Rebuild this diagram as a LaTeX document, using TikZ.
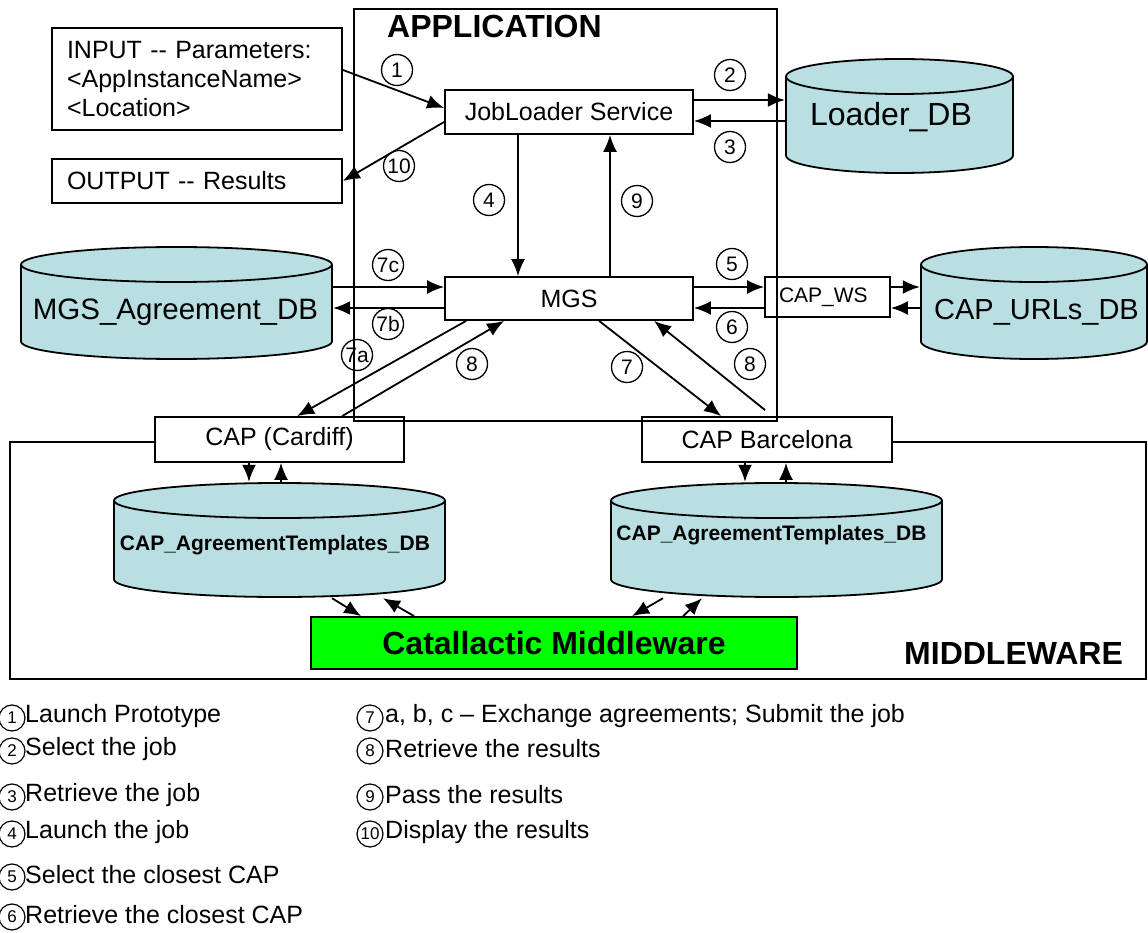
\documentclass[tikz,border=0pt]{standalone}
\usepackage{fontspec}
\setmainfont{Liberation Sans}
\usetikzlibrary{arrows.meta,calc}
\definecolor{dbfill}{RGB}{185,223,227}
\definecolor{mwgreen}{RGB}{0,255,0}

\begin{document}
\begin{tikzpicture}[x=1pt,y=-1pt,>={Latex[length=17pt,width=14pt]},
    box/.style={draw,fill=white,line width=1.8pt,inner sep=0pt,font=\fontsize{25}{29}\selectfont},
    dbshape/.style={rectangle,inner sep=0pt,path picture={
        \draw[line width=1.8pt,fill=dbfill]
          let \p1=(path picture bounding box.north west),
              \p2=(path picture bounding box.south east),
              \n1={(\x2-\x1)/2-1pt} in
          (\x1+1pt,\y1-18.5pt) -- (\x1+1pt,\y2+18.5pt)
          arc[start angle=180,end angle=360,x radius={\n1*1pt},y radius=17.5pt]
          -- (\x2-1pt,\y1-18.5pt)
          arc[start angle=0,end angle=180,x radius={\n1*1pt},y radius=17.5pt] -- cycle
          (\x1+1pt,\y1-18.5pt)
          arc[start angle=180,end angle=360,x radius={\n1*1pt},y radius=17.5pt];
      }},
    num/.style={circle,draw,line width=1.3pt,minimum size=31pt,inner sep=0pt,font=\fontsize{21}{21}\selectfont},
    keynum/.style={circle,draw,line width=1.2pt,minimum size=26pt,inner sep=0pt,font=\fontsize{17}{17}\selectfont},
    keytext/.style={anchor=west,inner sep=0pt,font=\fontsize{25}{29}\selectfont},
    flow/.style={->,line width=1.8pt},
    title/.style={anchor=west,inner sep=0pt,font=\fontsize{32}{36}\selectfont\bfseries}]
    \useasboundingbox (0,0) rectangle (1148,933);

    % databases
    \node[dbshape,minimum width=229pt,minimum height=116pt,
      label={[name=loadertxt,font=\fontsize{32}{36}\selectfont,xshift=-8.5pt,yshift=-1pt]center:Loader\_DB}]
      (loaderdb) at (899.5,116) {};
    \node[dbshape,minimum width=313pt,minimum height=114pt,
      label={[name=mgsdbtxt,font=\fontsize{29.5}{34}\selectfont,xshift=-1pt,yshift=-9pt]center:MGS\_Agreement\_DB}]
      (mgsdb) at (176.5,303) {};
    \node[dbshape,minimum width=228pt,minimum height=114pt,
      label={[name=urlsdbtxt,font=\fontsize{29}{34}\selectfont,xshift=2.5pt,yshift=-9pt]center:CAP\_URLs\_DB}]
      (urlsdb) at (1034,303) {};
    \node[dbshape,minimum width=333pt,minimum height=116pt,
      label={[name=cardiffdbtxt,font=\fontsize{21}{25}\selectfont\bfseries,xshift=-4.5pt,yshift=-5pt]center:CAP\_AgreementTemplates\_DB}]
      (cardiffdb) at (279.5,540) {};
    \node[dbshape,minimum width=333pt,minimum height=116pt,
      label={[name=barcadbtxt,font=\fontsize{21}{25}\selectfont\bfseries,xshift=-5pt,yshift=5pt]center:CAP\_AgreementTemplates\_DB}]
      (barcadb) at (776.5,540) {};

    % boxes
    \node[box,text width=260pt,inner xsep=15pt,align=left,minimum height=102pt] (input) at (197,79)
      {INPUT -{}- Parameters:\\<AppInstanceName>\\<Location>};
    \node[box,text width=260pt,inner xsep=15pt,align=left,minimum height=44pt] (output) at (197,181)
      {OUTPUT -{}- Results};
    \node[box,minimum width=248pt,minimum height=44pt] (jobloader) at (569,112) {JobLoader Service};
    \node[box,minimum width=248pt,minimum height=43pt] (mgs) at (569,298.5) {MGS};
    \node[box,text width=97pt,inner xsep=14pt,align=left,minimum height=40pt,
      font=\fontsize{21}{25}\selectfont] (capws) at (827.5,297) {CAP\_WS};
    \node[box,minimum width=249pt,minimum height=45pt] (cardiff) at (279.5,439.5) {CAP (Cardiff)};
    \node[box,minimum width=250pt,minimum height=45pt] (barcelona) at (767,439.5) {CAP Barcelona};
    \node[box,fill=mwgreen,minimum width=486pt,minimum height=52pt,
      font=\fontsize{32}{36}\selectfont\bfseries] (catallactic) at (554,643) {Catallactic Middleware};

    % middleware frame
    \coordinate (mwtl) at (10,442);
    \coordinate (mwbr) at (1146,679);
    \draw[line width=1.8pt] (cardiff.west |- mwtl) -- (mwtl) |- (mwbr) |- (barcelona.east |- mwtl);
    \node[title] (mwtitle) at (904,653) {MIDDLEWARE};

    % application frame
    \node[draw,line width=1.8pt,anchor=north west,minimum width=423pt,minimum height=412pt,inner sep=0pt]
      (appframe) at (353,8) {};
    \node[title] (apptitle) at (387,26) {APPLICATION};

    % job loading
    \draw[flow] ([yshift=9pt]input.east) -- ([yshift=4pt]jobloader.west);
    \draw[flow] ([yshift=-10pt]jobloader.west) -- (output.east);
    \draw[flow] ([yshift=12pt]jobloader.east) -- ([yshift=16pt]loaderdb.west);
    \draw[flow] ([yshift=-5pt]loaderdb.west) -- ([yshift=-9pt]jobloader.east);
    \draw[flow] ([xshift=-51pt]jobloader.south) -- ([xshift=-51pt]mgs.north);
    \draw[flow] ([xshift=41pt]mgs.north) -- ([xshift=41pt]jobloader.south);

    % agreements and closest CAP
    \draw[flow] ([yshift=16pt]mgsdb.east) -- ([yshift=11.5pt]mgs.west);
    \draw[flow] ([yshift=-9.5pt]mgs.west) -- ([yshift=-5pt]mgsdb.east);
    \draw[flow] ([yshift=11.5pt]mgs.east) -- ([yshift=10pt]capws.west);
    \draw[flow] ([yshift=-11pt]capws.west) -- ([yshift=-9.5pt]mgs.east);
    \draw[flow] ([yshift=10pt]capws.east) -- ([yshift=16pt]urlsdb.west);
    \draw[flow] ([yshift=-5pt]urlsdb.west) -- ([yshift=-11pt]capws.east);

    % submitting and results
    \draw[flow] ([xshift=22pt]mgs.south west) -- ([xshift=143pt]cardiff.north west);
    \draw[flow] ([xshift=188pt]cardiff.north west) -- ([xshift=60pt]mgs.south west);
    \draw[flow] ([xshift=155pt]mgs.south west) -- ([xshift=80pt]barcelona.north west);
    \draw[flow] ([xshift=124pt,yshift=6pt]barcelona.north west) -- ([xshift=210pt]mgs.south west);

    % CAPs and their templates
    \draw[flow] ([xshift=-30.5pt]cardiff.south) -- ([xshift=-30.5pt]cardiffdb.north);
    \draw[flow] ([xshift=1.5pt]cardiffdb.north) -- ([xshift=1.5pt]cardiff.south);
    \draw[flow] ([xshift=-22pt]barcelona.south) -- ([xshift=-31.5pt]barcadb.north);
    \draw[flow] ([xshift=9.5pt]barcadb.north) -- ([xshift=19pt]barcelona.south);
    \draw[flow] ([xshift=52.5pt]cardiffdb.south) -- ([xshift=51pt]catallactic.north west);
    \draw[flow] ([xshift=104pt]catallactic.north west) -- ([xshift=103.5pt]cardiffdb.south);
    \draw[flow] ([xshift=-113.5pt]barcadb.south) -- ([xshift=322pt]catallactic.north west);
    \draw[flow] ([xshift=373pt]catallactic.north west) -- ([xshift=-74.5pt]barcadb.south);

    % step numbers
    \foreach \s/\t/\x/\y in {s1/1/397/70, s10/10/399/166, s2/2/730/75, s3/3/730/147,
        s4/4/489/200, s9/9/637/201, s7c/7c/388/265, s7b/7b/388/324, s7a/7a/357/355,
        s8a/8/472/364, s5/5/732/264, s6/6/732/327, s7/7/627/367, s8b/8/750/364}
      \node[num] (\s) at (\x,\y) {\t};

    % legend
    \foreach \t/\y/\txt in {1/716/Launch Prototype, 2/749/Select the job, 3/795/Retrieve the job,
        4/832/Launch the job, 5/875/Select the closest CAP, 6/915/Retrieve the closest CAP}
    {
      \node[keynum] (key\t) at (12,\y+2) {\t};
      \node[keytext] (keytxt\t) at (25,\y) {\txt};
    };
    \foreach \t/\y/\txt in {7/716/{a, b, c -- Exchange agreements; Submit the job},
        8/749/Retrieve the results, 9/795/Pass the results, 10/832/Display the results}
    {
      \node[keynum] (key\t) at (370,\y+2) {\t};
      \node[keytext] (keytxt\t) at (385,\y) {\txt};
    };
\end{tikzpicture}
\end{document}
